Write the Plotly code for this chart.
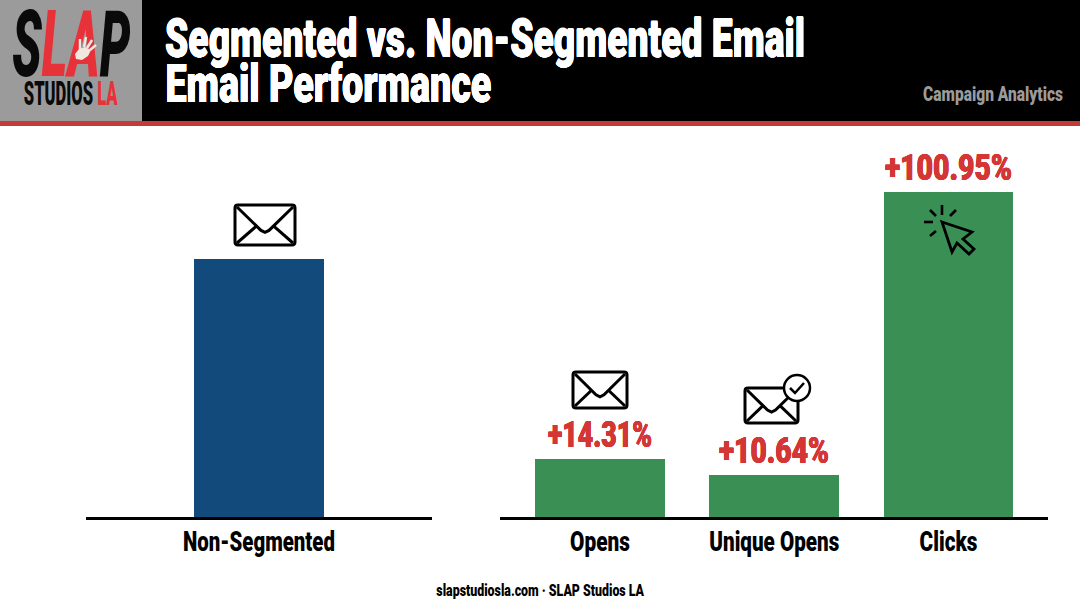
import json
import plotly.graph_objects as go

W, H = 1080, 603

# data (bar heights, non-segmented baseline = 100)
left_categories = ["Non-Segmented"]
left_values = [100.0]
right_categories = ["Opens", "Unique Opens", "Clicks"]
right_labels = ["+14.31%", "+10.64%", "+100.95%"]
right_values = [22.5, 16.3, 126.0]

NAVY = "#134a7c"
GREEN = "#3a8f55"
RED = "#d43535"
FONT = "Roboto"
Y_MAX = 150.0

# rendered width of each condensed label, in pixels
text_widths = {
    "Segmented vs. Non-Segmented Email": 640, "Email Performance": 326, "Campaign Analytics": 140,
    "slapstudiosla.com · SLAP Studios LA": 208, "SLAP": 118, "STUDIOS LA": 94,
    "Non-Segmented": 152, "Opens": 60, "Unique Opens": 130, "Clicks": 58,
    "+14.31%": 104, "+10.64%": 110, "+100.95%": 127,
}


def thick(color, a):
    return f"{a}px 0 0 {color}, -{a}px 0 0 {color}, 0 {a/2}px 0 {color}, 0 -{a/2}px 0 {color}"


def px(x):
    return x / W


def py(y):
    return 1 - y / H


def path(points, close=True):
    s = "M" + " L".join(f"{px(x):.5f},{py(y):.5f}" for x, y in points)
    return s + (" Z" if close else "")


def shp(d, line="black", lw=0, fill=None):
    return dict(type="path", xref="paper", yref="paper", path=d,
                line=dict(color=line, width=lw),
                fillcolor=fill if fill else "rgba(0,0,0,0)")


def rect(x0, y0, x1, y1, color):
    return dict(type="rect", xref="paper", yref="paper", x0=px(x0), x1=px(x1),
                y0=py(y1), y1=py(y0), fillcolor=color, line=dict(width=0), layer="below")


def envelope(x0, y0, x1, y1, lw=3):
    r = 3
    cx = (x0 + x1) / 2
    my = y0 + (y1 - y0) * 0.66
    out = []
    body = (f"M{px(x0+r):.5f},{py(y0):.5f} L{px(x1-r):.5f},{py(y0):.5f} "
            f"Q{px(x1):.5f},{py(y0):.5f} {px(x1):.5f},{py(y0+r):.5f} "
            f"L{px(x1):.5f},{py(y1-r):.5f} Q{px(x1):.5f},{py(y1):.5f} {px(x1-r):.5f},{py(y1):.5f} "
            f"L{px(x0+r):.5f},{py(y1):.5f} Q{px(x0):.5f},{py(y1):.5f} {px(x0):.5f},{py(y1-r):.5f} "
            f"L{px(x0):.5f},{py(y0+r):.5f} Q{px(x0):.5f},{py(y0):.5f} {px(x0+r):.5f},{py(y0):.5f} Z")
    out.append(shp(body, lw=lw, fill="white"))
    out.append(shp(path([(x0 + 2, y0 + 2), (cx - 4, my - 1), (cx, my + 1), (cx + 4, my - 1), (x1 - 2, y0 + 2)], False), lw=lw))
    out.append(shp(path([(x0 + 2, y1 - 2), (cx - 9, my - 5)], False), lw=lw))
    out.append(shp(path([(x1 - 2, y1 - 2), (cx + 9, my - 5)], False), lw=lw))
    return out


fig = go.Figure()
fig.add_trace(go.Bar(x=left_categories, y=left_values, marker=dict(color=NAVY, line=dict(width=0)),
                     width=0.376, xaxis="x", yaxis="y", showlegend=False))
fig.add_trace(go.Bar(x=right_categories, y=right_values, marker=dict(color=GREEN, line=dict(width=0)),
                     width=0.744, xaxis="x2", yaxis="y2", showlegend=False,
                     text=right_labels, textposition="outside", cliponaxis=False, constraintext="none",
                     textfont=dict(family=FONT, size=37, color=RED, weight=900, shadow=thick(RED, 0.35))))

tick_font = dict(family=FONT, size=27, color="black", weight=900)
base_x = dict(type="category", showgrid=False, showline=True, linecolor="black", linewidth=3,
              ticks="", tickfont=tick_font, zeroline=False, fixedrange=True, ticklabelstandoff=-1)
base_y = dict(visible=False, range=[0, Y_MAX], domain=[py(517), py(130)], fixedrange=True)

shapes = [
    rect(0, 0, W, 121, "black"),
    rect(0, 121, W, 126, "#c23b36"),
    rect(0, 0, 142, 121, "#9b9b9b"),
]
# envelopes
shapes += envelope(235, 205, 295, 245)
shapes += envelope(573, 372, 627, 408)
shapes += envelope(745, 388, 798, 423)
# check badge
shapes.append(dict(type="circle", xref="paper", yref="paper", x0=px(784), x1=px(810),
                   y0=py(401), y1=py(375), fillcolor="white", line=dict(color="black", width=2.5)))
shapes.append(shp(path([(790, 388), (795, 393), (804, 383)], False), lw=2.5))
# cursor
shapes.append(shp(path([(942, 222), (972, 232), (963, 239), (974, 249), (969, 254), (957, 243), (952, 252)]), lw=2.8))
for seg in [[(942, 205), (942, 215)], [(930, 210), (936, 216)], [(956, 210), (950, 216)],
            [(924, 222), (933, 222)], [(930, 236), (936, 231)]]:
    shapes.append(shp(path(seg, False), lw=2.6))

# hand print of the logo; the page script lifts these above the logo text
hand_color = "#f1e6e0"
logo_hand = [
    shp(path([(75, 54), (79, 49), (85, 47), (91, 50), (88, 56), (82, 60), (76, 59)]), fill=hand_color),
    shp(path([(80, 49), (80, 39)], False), line=hand_color, lw=2.5),
    shp(path([(84, 47), (86, 37)], False), line=hand_color, lw=2.5),
    shp(path([(87, 48), (92, 40)], False), line=hand_color, lw=2.5),
    shp(path([(90, 50), (96, 45)], False), line=hand_color, lw=2.5),
]
shapes += logo_hand


def note(text, x, y, size, color, style="normal", shadow=None):
    return dict(text=text, xref="paper", yref="paper", x=px(x), y=py(y), xanchor="center", yanchor="middle",
                showarrow=False, font=dict(family=FONT, size=size, color=color, weight=900, style=style, shadow=shadow))


annotations = [
    note("Email Performance", 328, 84, 53, "white", shadow=thick("white", 0.3)),
    note("Campaign Analytics", 993, 94, 20, "#9b9b9b"),
    note("slapstudiosla.com · SLAP Studios LA", 540, 590, 16, "black"),
    note("S<span style='color:#e8323a'>LA</span>P", 71, 44, 93, "#0a0a0a", style="italic"),
    note("STUDIOS <span style='color:#e8323a'>LA</span>", 71, 94, 33, "#0a0a0a"),
]

fig.update_layout(
    width=W, height=H, margin=dict(l=0, r=0, t=0, b=0), paper_bgcolor="white", plot_bgcolor="white",
    showlegend=False, bargap=0,
    title=dict(text="Segmented vs. Non-Segmented Email", x=px(485), xanchor="center", xref="paper",
               y=py(38), yanchor="middle", yref="paper",
               font=dict(family=FONT, size=53, color="white", weight=900, shadow=thick("white", 0.3))),
    xaxis=dict(base_x, domain=[px(86), px(432)], range=[-0.5, 0.5], categoryorder="array",
               categoryarray=left_categories),
    yaxis=dict(base_y, anchor="x"),
    xaxis2=dict(base_x, domain=[px(500), px(1048)], range=[-0.574, 2.571], categoryorder="array",
                categoryarray=right_categories),
    yaxis2=dict(base_y, anchor="x2"),
    shapes=shapes, annotations=annotations,
)

# page margin off; labels narrowed to the reference's condensed letterforms; hand lifted over the logo
post = """
document.body.style.margin = '0';
var widths = %s;
document.querySelectorAll('svg text').forEach(function (t) {
  var w = widths[t.textContent.trim()];
  if (!w) return;
  var b = t.getBBox(), cx = b.x + b.width / 2, old = t.getAttribute('transform') || '';
  t.setAttribute('transform', old + ' translate(' + cx + ' 0) scale(' + (w / b.width) + ' 1) translate(' + (-cx) + ' 0)');
});
var above = document.querySelectorAll('.layer-above .shapelayer path');
var info = document.querySelector('.infolayer');
Array.prototype.slice.call(above, -%d).forEach(function (p) { info.appendChild(p); });
""" % (json.dumps(text_widths), len(logo_hand))

fig.write_html("out.html", post_script=post, config=dict(displayModeBar=False, responsive=False))
